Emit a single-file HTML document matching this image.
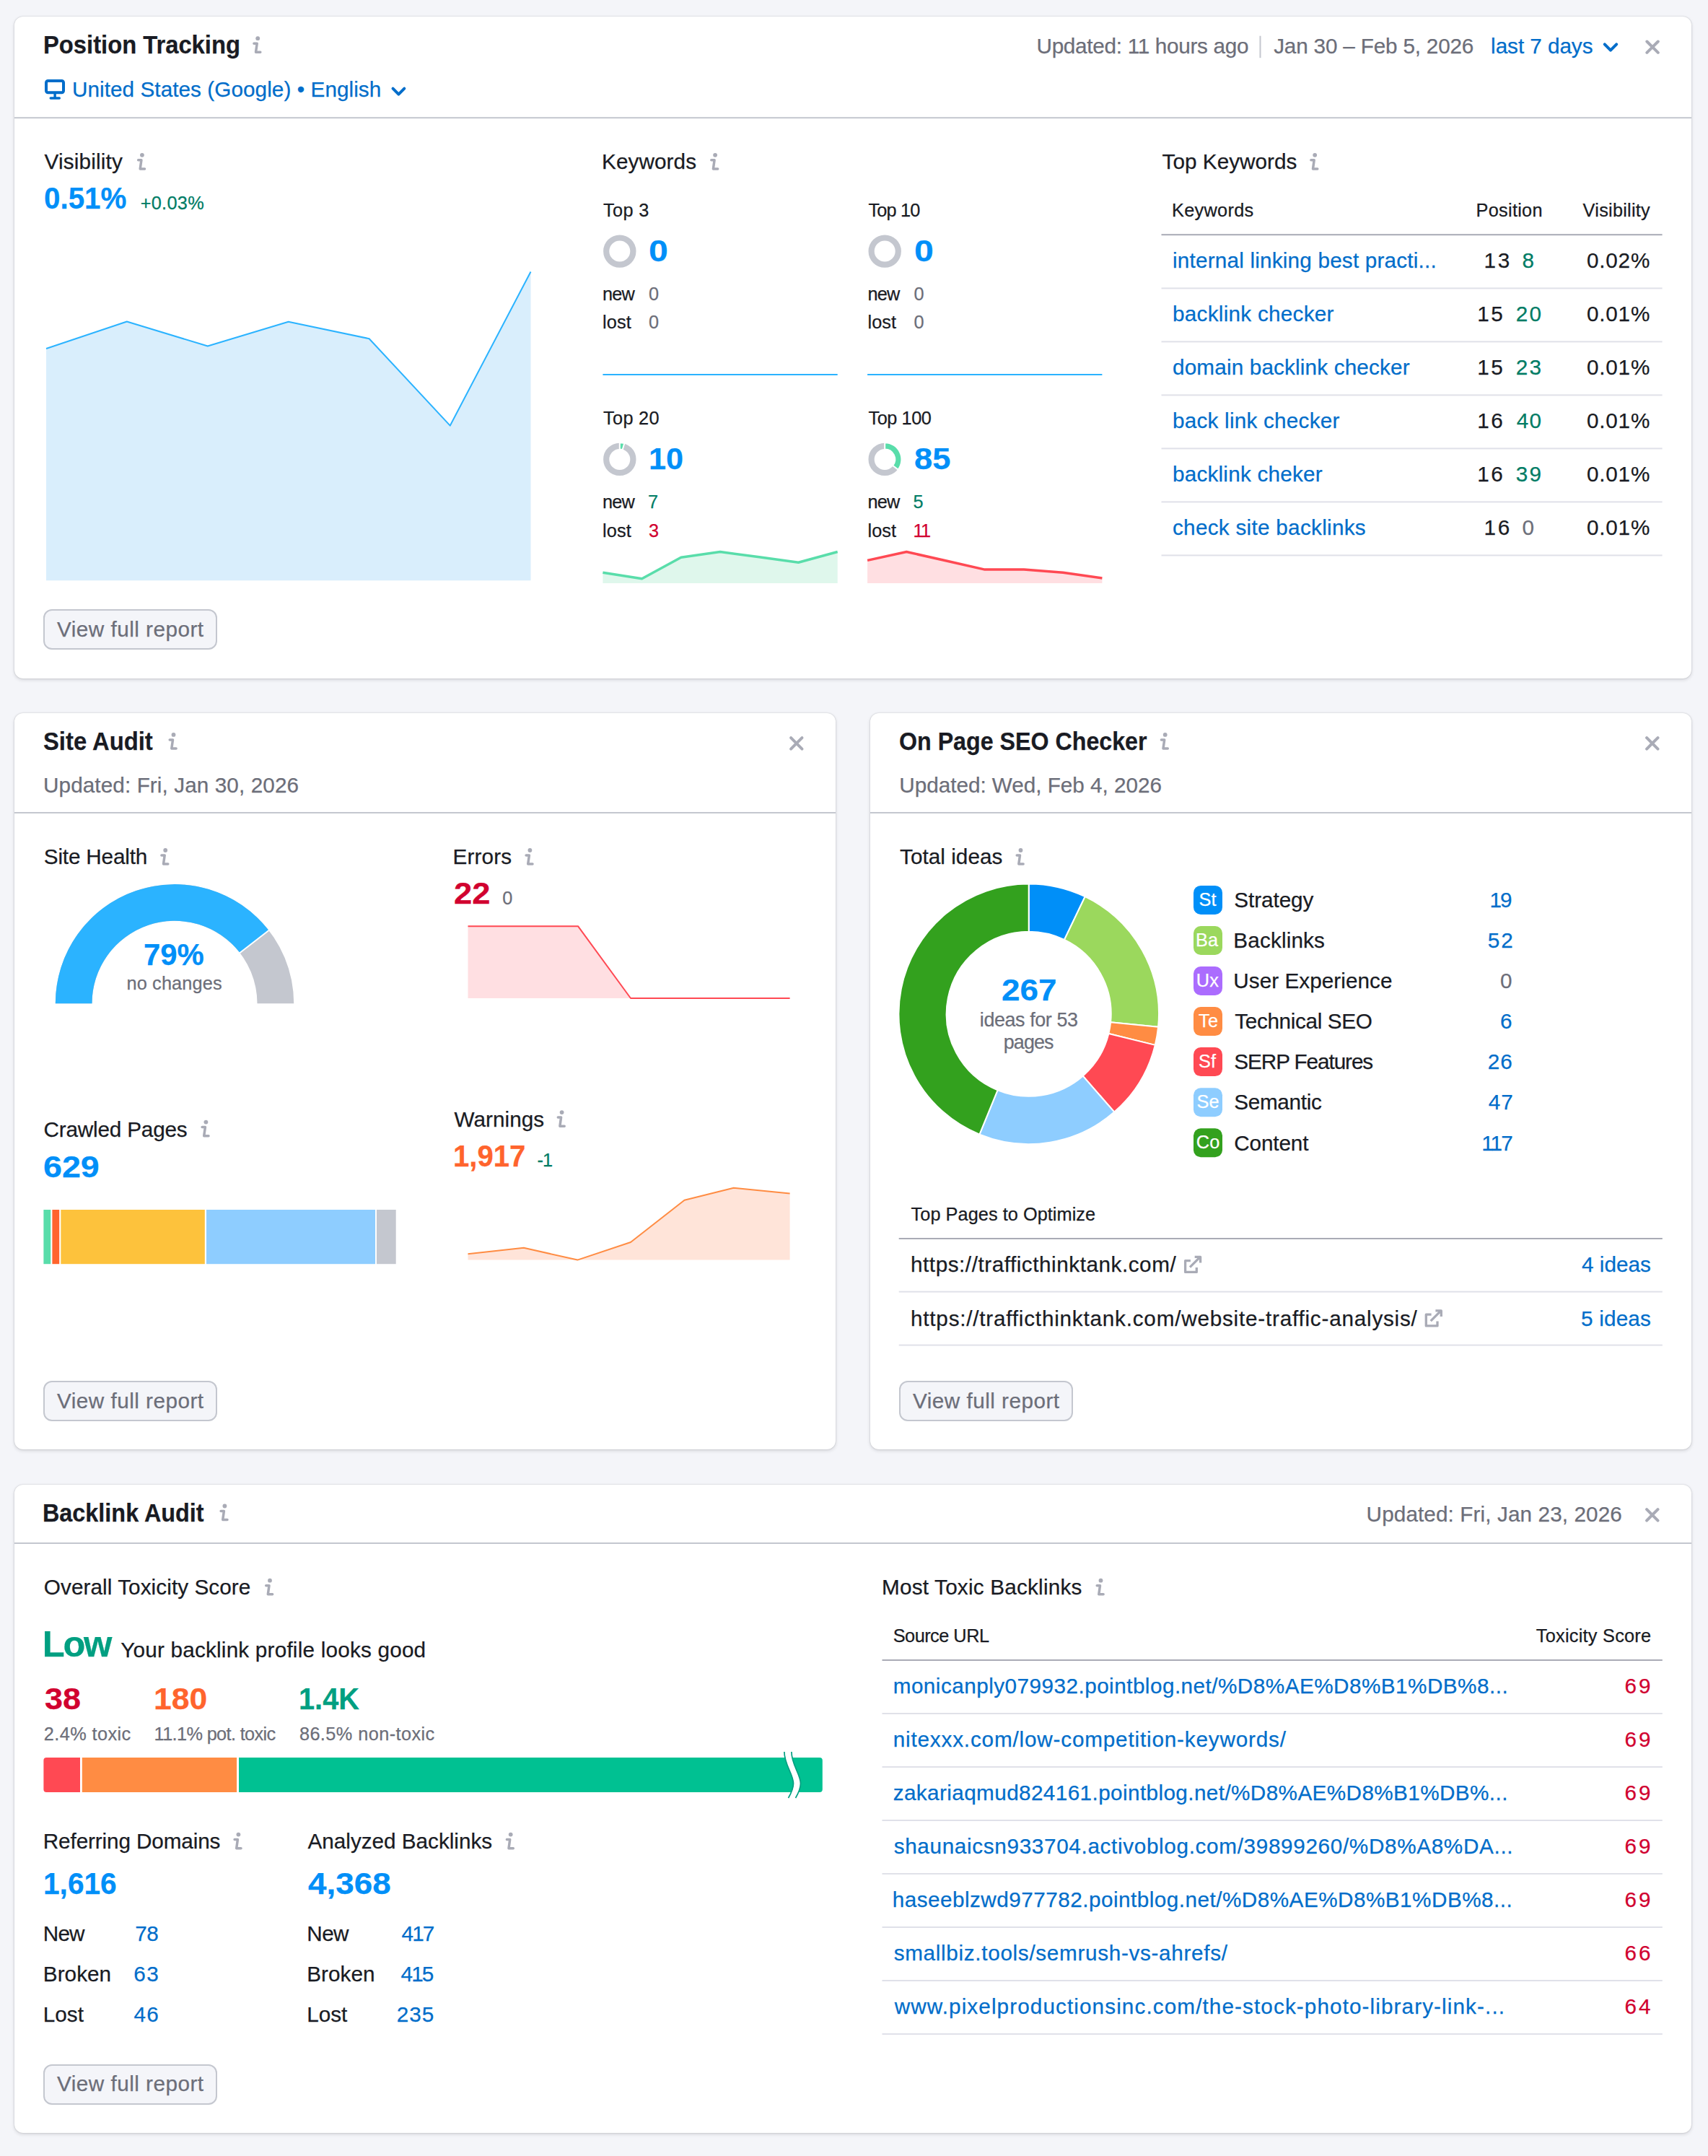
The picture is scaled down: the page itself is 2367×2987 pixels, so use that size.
<!DOCTYPE html>
<html lang="en"><head><meta charset="utf-8"><title>SEO Dashboard</title>
<style>
html,body{margin:0;padding:0}
body{width:2367px;height:2987px;background:#f4f5f9;font-family:"Liberation Sans",Arial,sans-serif;color:#191b23;position:relative;overflow:hidden}
.card{position:absolute;background:#fff;border-radius:12px;box-shadow:0 0 2px rgba(25,27,35,.22),0 2px 5px rgba(25,27,35,.14)}
.card svg{position:absolute;left:0;top:0;overflow:visible}
.card span,.card a,.card h2,.card h3{position:absolute;margin:0;white-space:nowrap;line-height:1;font-weight:400;text-decoration:none;-webkit-text-stroke:.25px currentColor}
.b{font-weight:700!important}
.num{transform-origin:0 50%;-webkit-text-stroke:.3px currentColor}
.ttl{transform-origin:0 50%}
.med{-webkit-text-stroke:.65px currentColor}
.low{-webkit-text-stroke:.7px currentColor}
.btn{position:absolute;box-sizing:border-box;border:2px solid #c4c7cf;border-radius:12px;background:#f4f5f9}
</style></head><body>

<section class="card" id="position-tracking" style="left:20px;top:22.8px;width:2324px;height:917.2px">
<svg width="2324" height="917.2" viewBox="20 22.8 2324 917.2">
<g class="info" fill="none" stroke="#a9abb6" stroke-width="3.5" stroke-linecap="round" stroke-linejoin="round"><circle cx="357.2" cy="53.0" r="2.9" fill="#a9abb6" stroke="none"/><path d="M351.9 60.0H356.2L354.5 72.0H360.8"/></g>
<rect x="64" y="111.8" width="24" height="16.2" rx="2.5" fill="none" stroke="#006dca" stroke-width="4"/><rect x="74.4" y="129" width="3.4" height="6" fill="#006dca"/><rect x="68.5" y="134" width="15.5" height="3.5" rx="1.7" fill="#006dca"/>
<path d="M544.5 122.5L552.4 130.5L560.3 122.5" stroke="#006dca" stroke-width="4" stroke-linecap="round" stroke-linejoin="round" fill="none"/>
<rect x="1745.5" y="49.5" width="2" height="30.5" fill="#c4c7cf"/>
<path d="M2223.8 61.2L2232.0 69.4L2240.2 61.2" stroke="#006dca" stroke-width="4" stroke-linecap="round" stroke-linejoin="round" fill="none"/>
<path d="M2282.4 57.3L2297.8 72.7M2297.8 57.3L2282.4 72.7" stroke="#a9abb6" stroke-width="4" stroke-linecap="round" fill="none"/>
<rect x="20.0" y="162.0" width="2324.0" height="2" fill="#c4c7cf"/>
<g class="info" fill="none" stroke="#a9abb6" stroke-width="3.5" stroke-linecap="round" stroke-linejoin="round"><circle cx="196.9" cy="214.6" r="2.9" fill="#a9abb6" stroke="none"/><path d="M191.6 221.6H195.9L194.2 233.7H200.5"/></g>
<polygon points="64.0,804.1 64.0,482.8 175.8,445.3 287.8,479.3 399.7,445.5 511.6,469.0 623.7,589.5 735.5,376.3 735.5,804.1" fill="#d9eefc"/>
<polyline points="64.0,482.8 175.8,445.3 287.8,479.3 399.7,445.5 511.6,469.0 623.7,589.5 735.5,376.3" fill="none" stroke="#2bb3ff" stroke-width="2" stroke-linejoin="round"/>
<g class="info" fill="none" stroke="#a9abb6" stroke-width="3.5" stroke-linecap="round" stroke-linejoin="round"><circle cx="991.1" cy="214.6" r="2.9" fill="#a9abb6" stroke="none"/><path d="M985.8 221.6H990.1L988.4 233.7H994.7"/></g>
<circle cx="858.8" cy="347.9" r="18.6" fill="none" stroke="#c4c7cf" stroke-width="8.2"/>
<circle cx="1226.2" cy="347.9" r="18.6" fill="none" stroke="#c4c7cf" stroke-width="8.2"/>
<circle cx="858.8" cy="636.2" r="18.6" fill="none" stroke="#c4c7cf" stroke-width="8.2"/>
<path d="M858.80 613.00A23.2 23.2 0 0 1 865.27 613.92L862.71 622.76A14 14 0 0 0 858.80 622.20Z" fill="#59ddaa" stroke="#fff" stroke-width="2"/>
<circle cx="1226.2" cy="636.2" r="18.6" fill="none" stroke="#c4c7cf" stroke-width="8.2"/>
<path d="M1226.20 613.00A23.2 23.2 0 0 1 1244.53 650.42L1237.26 644.78A14 14 0 0 0 1226.20 622.20Z" fill="#59ddaa" stroke="#fff" stroke-width="2"/>
<rect x="835.4" y="517.8" width="325.3" height="2" fill="#2bb3ff"/><rect x="1202.1" y="517.8" width="325.3" height="2" fill="#2bb3ff"/>
<polygon points="835.4,807.8 835.4,793.1 889.6,801.5 943.8,772.0 998.0,764.3 1052.2,771.6 1106.5,779.0 1160.7,764.3 1160.7,807.8" fill="#dff7ec"/>
<polyline points="835.4,793.1 889.6,801.5 943.8,772.0 998.0,764.3 1052.2,771.6 1106.5,779.0 1160.7,764.3" fill="none" stroke="#59ddaa" stroke-width="3.5" stroke-linejoin="round"/>
<polygon points="1202.1,807.8 1202.1,776.2 1256.3,764.3 1310.5,776.6 1364.8,788.9 1419.0,788.9 1473.2,793.1 1527.4,800.8 1527.4,807.8" fill="#ffdfe2"/>
<polyline points="1202.1,776.2 1256.3,764.3 1310.5,776.6 1364.8,788.9 1419.0,788.9 1473.2,793.1 1527.4,800.8" fill="none" stroke="#ff4953" stroke-width="3.5" stroke-linejoin="round"/>
<g class="info" fill="none" stroke="#a9abb6" stroke-width="3.5" stroke-linecap="round" stroke-linejoin="round"><circle cx="1822.2" cy="214.6" r="2.9" fill="#a9abb6" stroke="none"/><path d="M1816.9 221.6H1821.2L1819.5 233.7H1825.8"/></g>
<rect x="1609.5" y="324.0" width="694.1" height="2" fill="#a9abb6"/>
<rect x="1609.5" y="398.2" width="694.1" height="2" fill="#e0e1e9"/>
<rect x="1609.5" y="472.2" width="694.1" height="2" fill="#e0e1e9"/>
<rect x="1609.5" y="546.2" width="694.1" height="2" fill="#e0e1e9"/>
<rect x="1609.5" y="620.2" width="694.1" height="2" fill="#e0e1e9"/>
<rect x="1609.5" y="694.2" width="694.1" height="2" fill="#e0e1e9"/>
<rect x="1609.5" y="768.2" width="694.1" height="2" fill="#e0e1e9"/>
</svg>
<div class="btn" style="left:40.0px;top:821.2px;width:241.0px;height:56.0px"></div>
<h2 class="b ttl" style="left:40.1px;top:22.4px;font-size:34.6px;letter-spacing:0.00px;color:#191b23;transform:scaleX(0.947)">Position Tracking</h2>
<a href="#" style="left:79.9px;top:86.6px;font-size:29.7px;letter-spacing:0.07px;color:#006dca">United States (Google) • English</a>
<span style="left:1416.5px;top:26.6px;font-size:29.7px;letter-spacing:-0.29px;color:#6c6e79">Updated: 11 hours ago</span>
<span style="left:1745.2px;top:26.6px;font-size:29.7px;letter-spacing:-0.18px;color:#6c6e79">Jan 30 – Feb 5, 2026</span>
<a href="#" style="left:2046.1px;top:26.6px;font-size:29.7px;letter-spacing:-0.05px;color:#006dca">last 7 days</a>
<h3 style="left:41.5px;top:186.4px;font-size:29.7px;letter-spacing:0.17px;color:#191b23">Visibility</h3>
<span class="b num" style="left:40.8px;top:231.7px;font-size:42.2px;letter-spacing:0.00px;color:#008ff8;transform:scaleX(0.956)">0.51%</span>
<span style="left:174.7px;top:246.0px;font-size:25.3px;letter-spacing:0.29px;color:#007c65">+0.03%</span>
<span class="med" style="left:59.0px;top:833.9px;font-size:29.7px;letter-spacing:0.48px;color:#6c6e79">View full report</span>
<h3 style="left:814.1px;top:186.0px;font-size:29.7px;letter-spacing:0.08px;color:#191b23">Keywords</h3>
<span style="left:816.1px;top:255.9px;font-size:25.3px;letter-spacing:0.33px;color:#191b23">Top 3</span>
<span class="b num" style="left:879.4px;top:304.2px;font-size:42.2px;letter-spacing:0.00px;color:#008ff8;transform:scaleX(1.143)">0</span>
<span style="left:815.1px;top:371.8px;font-size:25.3px;letter-spacing:-0.81px;color:#191b23">new</span>
<span style="left:879.0px;top:371.8px;font-size:25.3px;letter-spacing:0.89px;color:#6c6e79">0</span>
<span style="left:815.1px;top:411.6px;font-size:25.3px;letter-spacing:0.09px;color:#191b23">lost</span>
<span style="left:879.0px;top:411.6px;font-size:25.3px;letter-spacing:0.89px;color:#6c6e79">0</span>
<span style="left:1183.5px;top:255.9px;font-size:25.3px;letter-spacing:-0.83px;color:#191b23">Top 10</span>
<span class="b num" style="left:1246.8px;top:304.2px;font-size:42.2px;letter-spacing:0.00px;color:#008ff8;transform:scaleX(1.143)">0</span>
<span style="left:1182.5px;top:371.8px;font-size:25.3px;letter-spacing:-0.81px;color:#191b23">new</span>
<span style="left:1246.4px;top:371.8px;font-size:25.3px;letter-spacing:0.89px;color:#6c6e79">0</span>
<span style="left:1182.5px;top:411.6px;font-size:25.3px;letter-spacing:0.09px;color:#191b23">lost</span>
<span style="left:1246.4px;top:411.6px;font-size:25.3px;letter-spacing:0.89px;color:#6c6e79">0</span>
<span style="left:816.1px;top:544.2px;font-size:25.3px;letter-spacing:0.29px;color:#191b23">Top 20</span>
<span class="b num" style="left:878.5px;top:592.5px;font-size:42.2px;letter-spacing:0.00px;color:#008ff8;transform:scaleX(1.024)">10</span>
<span style="left:815.1px;top:660.1px;font-size:25.3px;letter-spacing:-0.81px;color:#191b23">new</span>
<span style="left:878.0px;top:660.1px;font-size:25.3px;letter-spacing:0.89px;color:#007c65">7</span>
<span style="left:815.1px;top:699.9px;font-size:25.3px;letter-spacing:0.09px;color:#191b23">lost</span>
<span style="left:879.0px;top:699.9px;font-size:25.3px;letter-spacing:0.89px;color:#d1002f">3</span>
<span style="left:1183.5px;top:544.2px;font-size:25.3px;letter-spacing:-0.45px;color:#191b23">Top 100</span>
<span class="b num" style="left:1246.8px;top:592.5px;font-size:42.2px;letter-spacing:0.00px;color:#008ff8;transform:scaleX(1.074)">85</span>
<span style="left:1182.5px;top:660.1px;font-size:25.3px;letter-spacing:-0.81px;color:#191b23">new</span>
<span style="left:1245.4px;top:660.1px;font-size:25.3px;letter-spacing:0.89px;color:#007c65">5</span>
<span style="left:1182.5px;top:699.9px;font-size:25.3px;letter-spacing:0.09px;color:#191b23">lost</span>
<span style="left:1245.4px;top:699.9px;font-size:25.3px;letter-spacing:-1.64px;color:#d1002f">11</span>
<h3 style="left:1590.6px;top:186.5px;font-size:29.7px;letter-spacing:0.03px;color:#191b23">Top Keywords</h3>
<span style="left:1604.0px;top:256.1px;font-size:25.3px;letter-spacing:0.31px;color:#191b23">Keywords</span>
<span style="left:2025.6px;top:256.1px;font-size:25.3px;letter-spacing:0.27px;color:#191b23">Position</span>
<span style="left:2173.6px;top:256.1px;font-size:25.3px;letter-spacing:0.25px;color:#191b23">Visibility</span>
<a href="#" style="left:1605.0px;top:323.7px;font-size:29.7px;letter-spacing:0.20px;color:#006dca">internal linking best practi...</a>
<span style="left:2036.4px;top:323.7px;font-size:29.7px;letter-spacing:2.82px;color:#191b23">13</span>
<span style="left:2089.4px;top:323.7px;font-size:29.7px;letter-spacing:1.04px;color:#007c65">8</span>
<span style="left:2179.0px;top:323.7px;font-size:29.7px;letter-spacing:0.78px;color:#191b23">0.02%</span>
<a href="#" style="left:1605.0px;top:397.7px;font-size:29.7px;letter-spacing:0.27px;color:#006dca">backlink checker</a>
<span style="left:2027.3px;top:397.7px;font-size:29.7px;letter-spacing:2.42px;color:#191b23">15</span>
<span style="left:2080.7px;top:397.7px;font-size:29.7px;letter-spacing:2.32px;color:#007c65">20</span>
<span style="left:2179.0px;top:397.7px;font-size:29.7px;letter-spacing:0.78px;color:#191b23">0.01%</span>
<a href="#" style="left:1605.0px;top:471.7px;font-size:29.7px;letter-spacing:0.16px;color:#006dca">domain backlink checker</a>
<span style="left:2027.3px;top:471.7px;font-size:29.7px;letter-spacing:2.42px;color:#191b23">15</span>
<span style="left:2080.7px;top:471.7px;font-size:29.7px;letter-spacing:2.32px;color:#007c65">23</span>
<span style="left:2179.0px;top:471.7px;font-size:29.7px;letter-spacing:0.78px;color:#191b23">0.01%</span>
<a href="#" style="left:1605.0px;top:545.7px;font-size:29.7px;letter-spacing:0.23px;color:#006dca">back link checker</a>
<span style="left:2027.3px;top:545.7px;font-size:29.7px;letter-spacing:2.42px;color:#191b23">16</span>
<span style="left:2081.7px;top:545.7px;font-size:29.7px;letter-spacing:1.32px;color:#007c65">40</span>
<span style="left:2179.0px;top:545.7px;font-size:29.7px;letter-spacing:0.78px;color:#191b23">0.01%</span>
<a href="#" style="left:1605.0px;top:619.7px;font-size:29.7px;letter-spacing:0.21px;color:#006dca">backlink cheker</a>
<span style="left:2027.3px;top:619.7px;font-size:29.7px;letter-spacing:2.42px;color:#191b23">16</span>
<span style="left:2080.7px;top:619.7px;font-size:29.7px;letter-spacing:2.32px;color:#007c65">39</span>
<span style="left:2179.0px;top:619.7px;font-size:29.7px;letter-spacing:0.78px;color:#191b23">0.01%</span>
<a href="#" style="left:1605.0px;top:693.7px;font-size:29.7px;letter-spacing:0.28px;color:#006dca">check site backlinks</a>
<span style="left:2036.4px;top:693.7px;font-size:29.7px;letter-spacing:2.82px;color:#191b23">16</span>
<span style="left:2089.4px;top:693.7px;font-size:29.7px;letter-spacing:1.04px;color:#6c6e79">0</span>
<span style="left:2179.0px;top:693.7px;font-size:29.7px;letter-spacing:0.78px;color:#191b23">0.01%</span>
</section>
<section class="card" id="site-audit" style="left:20px;top:988px;width:1138px;height:1020px">
<svg width="1138" height="1020" viewBox="20 988 1138 1020">
<g class="info" fill="none" stroke="#a9abb6" stroke-width="3.5" stroke-linecap="round" stroke-linejoin="round"><circle cx="240.5" cy="1017.9" r="2.9" fill="#a9abb6" stroke="none"/><path d="M235.2 1024.9H239.5L237.8 1037.0H244.1"/></g>
<path d="M1096.1 1022.2L1111.5 1037.6M1111.5 1022.2L1096.1 1037.6" stroke="#a9abb6" stroke-width="4" stroke-linecap="round" fill="none"/>
<rect x="20.0" y="1125.0" width="1138.0" height="2" fill="#c4c7cf"/>
<g class="info" fill="none" stroke="#a9abb6" stroke-width="3.5" stroke-linecap="round" stroke-linejoin="round"><circle cx="229.2" cy="1178.0" r="2.9" fill="#a9abb6" stroke="none"/><path d="M223.9 1185.0H228.2L226.5 1197.0H232.8"/></g>
<path d="M76.80 1390.30A165.2 165.2 0 0 1 407.20 1390.30L356.50 1390.30A114.5 114.5 0 0 0 127.50 1390.30Z" fill="#c4c7cf"/>
<path d="M76.80 1390.30A165.2 165.2 0 0 1 372.53 1289.05L332.47 1320.12A114.5 114.5 0 0 0 127.50 1390.30Z" fill="#2bb3ff"/>
<line x1="330.9" y1="1321.3" x2="374.1" y2="1287.8" stroke="#fff" stroke-width="2"/>
<g class="info" fill="none" stroke="#a9abb6" stroke-width="3.5" stroke-linecap="round" stroke-linejoin="round"><circle cx="734.4" cy="1178.0" r="2.9" fill="#a9abb6" stroke="none"/><path d="M729.1 1185.0H733.4L731.7 1197.0H738.0"/></g>
<polygon points="648.5,1383.0 648.5,1283.2 801.0,1283.2 874.0,1383.0 1094.6,1383.0 1094.6,1383.0" fill="#ffdfe2"/>
<polyline points="648.5,1283.2 801.0,1283.2 874.0,1383.0 1094.6,1383.0" fill="none" stroke="#ff4953" stroke-width="2" stroke-linejoin="round"/>
<g class="info" fill="none" stroke="#a9abb6" stroke-width="3.5" stroke-linecap="round" stroke-linejoin="round"><circle cx="285.4" cy="1554.6" r="2.9" fill="#a9abb6" stroke="none"/><path d="M280.1 1561.6H284.4L282.7 1573.7H289.0"/></g>
<rect x="60.4" y="1676" width="9.9" height="75.2" fill="#59ddaa"/>
<rect x="72.4" y="1676" width="9.8" height="75.2" fill="#ff642d"/>
<rect x="84.3" y="1676" width="199.5" height="75.2" fill="#fdc23c"/>
<rect x="286" y="1676" width="234.0" height="75.2" fill="#8ecdff"/>
<rect x="522" y="1676" width="26.7" height="75.2" fill="#c4c7cf"/>
<g class="info" fill="none" stroke="#a9abb6" stroke-width="3.5" stroke-linecap="round" stroke-linejoin="round"><circle cx="778.6" cy="1541.1" r="2.9" fill="#a9abb6" stroke="none"/><path d="M773.3 1548.1H777.6L775.9 1560.2H782.2"/></g>
<polygon points="648.5,1745.6 648.5,1737.2 725.8,1728.7 800.3,1745.6 874.0,1721.0 948.5,1662.7 1016.7,1645.8 1094.6,1653.5 1094.6,1745.6" fill="#ffe4d9"/>
<polyline points="648.5,1737.2 725.8,1728.7 800.3,1745.6 874.0,1721.0 948.5,1662.7 1016.7,1645.8 1094.6,1653.5" fill="none" stroke="#ff8c43" stroke-width="2" stroke-linejoin="round"/>
</svg>
<div class="btn" style="left:40.0px;top:925.0px;width:241.0px;height:56.0px"></div>
<h2 class="b ttl" style="left:39.5px;top:22.1px;font-size:34.6px;letter-spacing:0.00px;color:#191b23;transform:scaleX(0.948)">Site Audit</h2>
<span style="left:40.0px;top:84.9px;font-size:29.7px;letter-spacing:0.10px;color:#6c6e79">Updated: Fri, Jan 30, 2026</span>
<h3 style="left:40.8px;top:184.1px;font-size:29.7px;letter-spacing:-0.17px;color:#191b23">Site Health</h3>
<span class="b num" style="left:179.2px;top:314.3px;font-size:42.2px;letter-spacing:0.00px;color:#008ff8;transform:scaleX(0.992)">79%</span>
<span style="left:155.4px;top:362.2px;font-size:25.3px;letter-spacing:0.17px;color:#6c6e79">no changes</span>
<h3 style="left:607.5px;top:184.1px;font-size:29.7px;letter-spacing:0.17px;color:#191b23">Errors</h3>
<span class="b num" style="left:609.1px;top:229.3px;font-size:42.2px;letter-spacing:0.00px;color:#d1002f;transform:scaleX(1.076)">22</span>
<span style="left:676.3px;top:243.6px;font-size:25.3px;letter-spacing:0.89px;color:#6c6e79">0</span>
<h3 style="left:40.5px;top:561.5px;font-size:29.7px;letter-spacing:-0.18px;color:#191b23">Crawled Pages</h3>
<span class="b num" style="left:40.4px;top:607.5px;font-size:42.2px;letter-spacing:0.00px;color:#008ff8;transform:scaleX(1.105)">629</span>
<h3 style="left:609.5px;top:547.5px;font-size:29.7px;letter-spacing:0.06px;color:#191b23">Warnings</h3>
<span class="b num" style="left:608.3px;top:592.6px;font-size:42.2px;letter-spacing:0.00px;color:#ff642d;transform:scaleX(0.951)">1,917</span>
<span style="left:724.4px;top:606.9px;font-size:25.3px;letter-spacing:-0.82px;color:#007c65">-1</span>
<span class="med" style="left:59.0px;top:937.9px;font-size:29.7px;letter-spacing:0.48px;color:#6c6e79">View full report</span>
</section>
<section class="card" id="on-page-seo-checker" style="left:1206px;top:988px;width:1138px;height:1020px">
<svg width="1138" height="1020" viewBox="1206 988 1138 1020">
<g class="info" fill="none" stroke="#a9abb6" stroke-width="3.5" stroke-linecap="round" stroke-linejoin="round"><circle cx="1614.7" cy="1017.9" r="2.9" fill="#a9abb6" stroke="none"/><path d="M1609.4 1024.9H1613.7L1612.0 1037.0H1618.3"/></g>
<path d="M2282.1 1022.2L2297.5 1037.6M2297.5 1022.2L2282.1 1037.6" stroke="#a9abb6" stroke-width="4" stroke-linecap="round" fill="none"/>
<rect x="1206.0" y="1125.0" width="1138.0" height="2" fill="#c4c7cf"/>
<g class="info" fill="none" stroke="#a9abb6" stroke-width="3.5" stroke-linecap="round" stroke-linejoin="round"><circle cx="1414.5" cy="1178.0" r="2.9" fill="#a9abb6" stroke="none"/><path d="M1409.2 1185.0H1413.5L1411.8 1197.0H1418.1"/></g>
<path d="M1425.70 1224.50A180.3 180.3 0 0 1 1503.66 1242.22L1474.99 1302.01A114 114 0 0 0 1425.70 1290.80Z" fill="#008ff8" stroke="#fff" stroke-width="2" stroke-linejoin="round"/>
<path d="M1503.66 1242.22A180.3 180.3 0 0 1 1605.10 1422.80L1539.13 1416.18A114 114 0 0 0 1474.99 1302.01Z" fill="#9bd85d" stroke="#fff" stroke-width="2" stroke-linejoin="round"/>
<path d="M1605.10 1422.80A180.3 180.3 0 0 1 1600.78 1447.87L1536.40 1432.03A114 114 0 0 0 1539.13 1416.18Z" fill="#ff8c43" stroke="#fff" stroke-width="2" stroke-linejoin="round"/>
<path d="M1600.78 1447.87A180.3 180.3 0 0 1 1544.28 1540.62L1500.68 1490.68A114 114 0 0 0 1536.40 1432.03Z" fill="#ff4953" stroke="#fff" stroke-width="2" stroke-linejoin="round"/>
<path d="M1544.28 1540.62A180.3 180.3 0 0 1 1357.44 1571.68L1382.54 1510.31A114 114 0 0 0 1500.68 1490.68Z" fill="#8ecdff" stroke="#fff" stroke-width="2" stroke-linejoin="round"/>
<path d="M1357.44 1571.68A180.3 180.3 0 0 1 1425.70 1224.50L1425.70 1290.80A114 114 0 0 0 1382.54 1510.31Z" fill="#33a11e" stroke="#fff" stroke-width="2" stroke-linejoin="round"/>
<rect x="1654" y="1226.9" width="40" height="40" rx="10" fill="#008ff8"/>
<rect x="1654" y="1283.0" width="40" height="40" rx="10" fill="#9bd85d"/>
<rect x="1654" y="1339.0" width="40" height="40" rx="10" fill="#ab6cfe"/>
<rect x="1654" y="1395.1" width="40" height="40" rx="10" fill="#ff8c43"/>
<rect x="1654" y="1451.1" width="40" height="40" rx="10" fill="#ff4953"/>
<rect x="1654" y="1507.2" width="40" height="40" rx="10" fill="#8ecdff"/>
<rect x="1654" y="1563.2" width="40" height="40" rx="10" fill="#33a11e"/>
<rect x="1245.7" y="1715.0" width="1058.1" height="2" fill="#a9abb6"/>
<path d="M1649.9 1746.7H1642.6V1762.4H1658.3V1756.0M1649.0 1755.7L1663.0 1741.7M1655.7 1741.4H1663.6V1749.5" fill="none" stroke="#a9abb6" stroke-width="3.3" stroke-linejoin="round"/>
<rect x="1245.7" y="1788.6" width="1058.1" height="2" fill="#e0e1e9"/>
<path d="M1983.6 1821.2H1976.3V1836.9H1992.0V1830.5M1982.7 1830.2L1996.7 1816.2M1989.4 1815.9H1997.3V1824.0" fill="none" stroke="#a9abb6" stroke-width="3.3" stroke-linejoin="round"/>
<rect x="1245.7" y="1862.6" width="1058.1" height="2" fill="#e0e1e9"/>
</svg>
<div class="btn" style="left:40.0px;top:925.0px;width:241.0px;height:56.0px"></div>
<h2 class="b ttl" style="left:39.5px;top:22.1px;font-size:34.6px;letter-spacing:0.00px;color:#191b23;transform:scaleX(0.931)">On Page SEO Checker</h2>
<span style="left:40.3px;top:84.9px;font-size:29.7px;letter-spacing:-0.02px;color:#6c6e79">Updated: Wed, Feb 4, 2026</span>
<h3 style="left:41.1px;top:184.1px;font-size:29.7px;letter-spacing:0.03px;color:#191b23">Total ideas</h3>
<span class="b num" style="left:181.9px;top:362.8px;font-size:42.2px;letter-spacing:0.00px;color:#008ff8;transform:scaleX(1.087)">267</span>
<span style="left:151.8px;top:411.8px;font-size:26.9px;letter-spacing:-0.39px;color:#6c6e79">ideas for 53</span>
<span style="left:184.8px;top:443.2px;font-size:26.9px;letter-spacing:-0.90px;color:#6c6e79">pages</span>
<span class="med badge" style="left:455.5px;top:245.9px;font-size:25.3px;letter-spacing:0.20px;color:#fff">St</span>
<span style="left:504.3px;top:244.2px;font-size:29.7px;letter-spacing:-0.07px;color:#191b23">Strategy</span>
<span style="left:858.5px;top:244.2px;font-size:29.7px;letter-spacing:-1.93px;color:#006dca">19</span>
<span class="med badge" style="left:451.0px;top:301.9px;font-size:25.3px;letter-spacing:0.20px;color:#fff">Ba</span>
<span style="left:503.3px;top:300.2px;font-size:29.7px;letter-spacing:0.15px;color:#191b23">Backlinks</span>
<span style="left:855.8px;top:300.2px;font-size:29.7px;letter-spacing:1.82px;color:#006dca">52</span>
<span class="med badge" style="left:451.8px;top:358.0px;font-size:25.3px;letter-spacing:0.20px;color:#fff">Ux</span>
<span style="left:503.3px;top:356.3px;font-size:29.7px;letter-spacing:0.05px;color:#191b23">User Experience</span>
<span style="left:873.1px;top:356.3px;font-size:29.7px;letter-spacing:1.04px;color:#6c6e79">0</span>
<span class="med badge" style="left:455.1px;top:414.0px;font-size:25.3px;letter-spacing:0.20px;color:#fff">Te</span>
<span style="left:505.3px;top:412.3px;font-size:29.7px;letter-spacing:-0.35px;color:#191b23">Technical SEO</span>
<span style="left:873.1px;top:412.3px;font-size:29.7px;letter-spacing:1.04px;color:#006dca">6</span>
<span class="med badge" style="left:455.0px;top:470.1px;font-size:25.3px;letter-spacing:0.20px;color:#fff">Sf</span>
<span style="left:504.3px;top:468.4px;font-size:29.7px;letter-spacing:-1.07px;color:#191b23">SERP Features</span>
<span style="left:855.8px;top:468.4px;font-size:29.7px;letter-spacing:0.82px;color:#006dca">26</span>
<span class="med badge" style="left:452.5px;top:526.1px;font-size:25.3px;letter-spacing:0.20px;color:#fff">Se</span>
<span style="left:504.3px;top:524.4px;font-size:29.7px;letter-spacing:-0.33px;color:#191b23">Semantic</span>
<span style="left:856.8px;top:524.4px;font-size:29.7px;letter-spacing:0.82px;color:#006dca">47</span>
<span class="med badge" style="left:451.8px;top:582.2px;font-size:25.3px;letter-spacing:0.20px;color:#fff">Co</span>
<span style="left:504.3px;top:580.5px;font-size:29.7px;letter-spacing:-0.13px;color:#191b23">Content</span>
<span style="left:847.2px;top:580.5px;font-size:29.7px;letter-spacing:-1.93px;color:#006dca">117</span>
<span style="left:56.6px;top:681.8px;font-size:25.3px;letter-spacing:0.05px;color:#191b23">Top Pages to Optimize</span>
<span style="left:56.0px;top:749.1px;font-size:29.7px;letter-spacing:0.54px;color:#191b23">https://trafficthinktank.com/</span>
<a href="#" style="left:986.1px;top:749.1px;font-size:29.7px;letter-spacing:0.01px;color:#006dca">4 ideas</a>
<span style="left:56.0px;top:823.6px;font-size:29.7px;letter-spacing:0.78px;color:#191b23">https://trafficthinktank.com/website-traffic-analysis/</span>
<a href="#" style="left:985.1px;top:823.6px;font-size:29.7px;letter-spacing:0.17px;color:#006dca">5 ideas</a>
<span class="med" style="left:59.0px;top:937.9px;font-size:29.7px;letter-spacing:0.48px;color:#6c6e79">View full report</span>
</section>
<section class="card" id="backlink-audit" style="left:20px;top:2057px;width:2324px;height:898px">
<svg width="2324" height="898" viewBox="20 2057 2324 898">
<g class="info" fill="none" stroke="#a9abb6" stroke-width="3.5" stroke-linecap="round" stroke-linejoin="round"><circle cx="311.4" cy="2086.5" r="2.9" fill="#a9abb6" stroke="none"/><path d="M306.1 2093.5H310.4L308.7 2105.6H315.0"/></g>
<path d="M2282.1 2091.2L2297.5 2106.6M2297.5 2091.2L2282.1 2106.6" stroke="#a9abb6" stroke-width="4" stroke-linecap="round" fill="none"/>
<rect x="20.0" y="2137.0" width="2324.0" height="2" fill="#c4c7cf"/>
<g class="info" fill="none" stroke="#a9abb6" stroke-width="3.5" stroke-linecap="round" stroke-linejoin="round"><circle cx="374.0" cy="2189.7" r="2.9" fill="#a9abb6" stroke="none"/><path d="M368.7 2196.7H373.0L371.3 2208.8H377.6"/></g>
<path d="M64.4 2435H111V2483H64.4a4 4 0 0 1-4-4V2439a4 4 0 0 1 4-4Z" fill="#ff4953"/><rect x="113.8" y="2435" width="214.3" height="48" fill="#ff8c43"/><path d="M331 2435H1135.8a4 4 0 0 1 4 4V2479a4 4 0 0 1-4 4H331Z" fill="#00c192"/>
<path d="M1086.9 2427C1086.9 2445 1099.5 2458 1099.5 2471C1099.5 2479 1096 2485 1092.5 2491L1102.5 2491C1106 2485 1109.5 2479 1109.5 2471C1109.5 2458 1096.9 2445 1096.9 2427Z" fill="#fff"/><path d="M1086.9 2427C1086.9 2445 1099.5 2458 1099.5 2471C1099.5 2479 1096 2485 1092.5 2491M1096.9 2427C1096.9 2445 1109.5 2458 1109.5 2471C1109.5 2479 1106 2485 1102.5 2491" fill="none" stroke="#009f81" stroke-width="1.7"/>
<g class="info" fill="none" stroke="#a9abb6" stroke-width="3.5" stroke-linecap="round" stroke-linejoin="round"><circle cx="330.4" cy="2541.6" r="2.9" fill="#a9abb6" stroke="none"/><path d="M325.1 2548.6H329.4L327.7 2560.7H334.0"/></g>
<g class="info" fill="none" stroke="#a9abb6" stroke-width="3.5" stroke-linecap="round" stroke-linejoin="round"><circle cx="707.7" cy="2541.6" r="2.9" fill="#a9abb6" stroke="none"/><path d="M702.4 2548.6H706.7L705.0 2560.7H711.3"/></g>
<g class="info" fill="none" stroke="#a9abb6" stroke-width="3.5" stroke-linecap="round" stroke-linejoin="round"><circle cx="1525.5" cy="2189.7" r="2.9" fill="#a9abb6" stroke="none"/><path d="M1520.2 2196.7H1524.5L1522.8 2208.8H1529.1"/></g>
<rect x="1222.5" y="2299.0" width="1081.3" height="2" fill="#a9abb6"/>
<rect x="1222.5" y="2373.0" width="1081.3" height="2" fill="#e0e1e9"/>
<rect x="1222.5" y="2447.0" width="1081.3" height="2" fill="#e0e1e9"/>
<rect x="1222.5" y="2521.0" width="1081.3" height="2" fill="#e0e1e9"/>
<rect x="1222.5" y="2595.0" width="1081.3" height="2" fill="#e0e1e9"/>
<rect x="1222.5" y="2669.0" width="1081.3" height="2" fill="#e0e1e9"/>
<rect x="1222.5" y="2743.0" width="1081.3" height="2" fill="#e0e1e9"/>
<rect x="1222.5" y="2817.0" width="1081.3" height="2" fill="#e0e1e9"/>
</svg>
<div class="btn" style="left:40.0px;top:802.7px;width:241.0px;height:56.0px"></div>
<h2 class="b ttl" style="left:39.4px;top:21.7px;font-size:34.6px;letter-spacing:0.00px;color:#191b23;transform:scaleX(0.936)">Backlink Audit</h2>
<span style="left:1873.6px;top:25.9px;font-size:29.7px;letter-spacing:0.11px;color:#6c6e79">Updated: Fri, Jan 23, 2026</span>
<h3 style="left:40.8px;top:127.1px;font-size:29.7px;letter-spacing:0.08px;color:#191b23">Overall Toxicity Score</h3>
<span class="b low" style="left:38.8px;top:195.9px;font-size:50.6px;letter-spacing:-2.28px;color:#009f81">Low</span>
<span style="left:147.2px;top:213.6px;font-size:29.7px;letter-spacing:0.21px;color:#191b23">Your backlink profile looks good</span>
<span class="b num" style="left:41.8px;top:276.1px;font-size:42.2px;letter-spacing:-0.00px;color:#d1002f;transform:scaleX(1.066)">38</span>
<span class="b num" style="left:192.5px;top:276.1px;font-size:42.2px;letter-spacing:0.00px;color:#ff642d;transform:scaleX(1.056)">180</span>
<span class="b num" style="left:394.0px;top:276.1px;font-size:42.2px;letter-spacing:0.00px;color:#009f81;transform:scaleX(0.942)">1.4K</span>
<span style="left:40.8px;top:332.5px;font-size:25.3px;letter-spacing:0.41px;color:#6c6e79">2.4% toxic</span>
<span style="left:193.6px;top:332.5px;font-size:25.3px;letter-spacing:-0.64px;color:#6c6e79">11.1% pot. toxic</span>
<span style="left:394.9px;top:332.5px;font-size:25.3px;letter-spacing:0.42px;color:#6c6e79">86.5% non-toxic</span>
<h3 style="left:39.8px;top:479.0px;font-size:29.7px;letter-spacing:-0.12px;color:#191b23">Referring Domains</h3>
<h3 style="left:406.5px;top:479.0px;font-size:29.7px;letter-spacing:-0.01px;color:#191b23">Analyzed Backlinks</h3>
<span class="b num" style="left:40.1px;top:532.3px;font-size:42.2px;letter-spacing:0.00px;color:#008ff8;transform:scaleX(0.963)">1,616</span>
<span class="b num" style="left:407.0px;top:532.3px;font-size:42.2px;letter-spacing:-0.00px;color:#008ff8;transform:scaleX(1.086)">4,368</span>
<span style="left:39.8px;top:606.7px;font-size:29.7px;letter-spacing:-0.85px;color:#191b23">New</span>
<span style="left:167.3px;top:606.7px;font-size:29.7px;letter-spacing:-0.58px;color:#006dca">78</span>
<span style="left:405.3px;top:606.7px;font-size:29.7px;letter-spacing:-0.60px;color:#191b23">New</span>
<span style="left:536.6px;top:606.7px;font-size:29.7px;letter-spacing:-1.93px;color:#006dca">417</span>
<span style="left:39.8px;top:662.9px;font-size:29.7px;letter-spacing:0.05px;color:#191b23">Broken</span>
<span style="left:165.2px;top:662.9px;font-size:29.7px;letter-spacing:1.52px;color:#006dca">63</span>
<span style="left:405.3px;top:662.9px;font-size:29.7px;letter-spacing:0.01px;color:#191b23">Broken</span>
<span style="left:535.6px;top:662.9px;font-size:29.7px;letter-spacing:-1.93px;color:#006dca">415</span>
<span style="left:39.8px;top:719.1px;font-size:29.7px;letter-spacing:0.00px;color:#191b23">Lost</span>
<span style="left:165.5px;top:719.1px;font-size:29.7px;letter-spacing:1.22px;color:#006dca">46</span>
<span style="left:405.3px;top:719.1px;font-size:29.7px;letter-spacing:-0.03px;color:#191b23">Lost</span>
<span style="left:529.8px;top:719.1px;font-size:29.7px;letter-spacing:0.97px;color:#006dca">235</span>
<span class="med" style="left:59.0px;top:815.4px;font-size:29.7px;letter-spacing:0.48px;color:#6c6e79">View full report</span>
<h3 style="left:1202.0px;top:127.1px;font-size:29.7px;letter-spacing:0.21px;color:#191b23">Most Toxic Backlinks</h3>
<span style="left:1217.7px;top:196.8px;font-size:25.3px;letter-spacing:-0.50px;color:#191b23">Source URL</span>
<span style="left:2108.8px;top:196.8px;font-size:25.3px;letter-spacing:0.25px;color:#191b23">Toxicity Score</span>
<a href="#" style="left:1217.7px;top:263.9px;font-size:29.7px;letter-spacing:0.47px;color:#006dca">monicanply079932.pointblog.net/%D8%AE%D8%B1%DB%8...</a>
<span style="left:2231.5px;top:263.9px;font-size:29.7px;letter-spacing:2.92px;color:#d1002f">69</span>
<a href="#" style="left:1217.7px;top:337.9px;font-size:29.7px;letter-spacing:0.82px;color:#006dca">nitexxx.com/low-competition-keywords/</a>
<span style="left:2231.5px;top:337.9px;font-size:29.7px;letter-spacing:2.92px;color:#d1002f">69</span>
<a href="#" style="left:1217.7px;top:411.9px;font-size:29.7px;letter-spacing:0.40px;color:#006dca">zakariaqmud824161.pointblog.net/%D8%AE%D8%B1%DB%...</a>
<span style="left:2231.5px;top:411.9px;font-size:29.7px;letter-spacing:2.92px;color:#d1002f">69</span>
<a href="#" style="left:1218.7px;top:485.9px;font-size:29.7px;letter-spacing:0.66px;color:#006dca">shaunaicsn933704.activoblog.com/39899260/%D8%A8%DA...</a>
<span style="left:2231.5px;top:485.9px;font-size:29.7px;letter-spacing:2.92px;color:#d1002f">69</span>
<a href="#" style="left:1216.7px;top:559.9px;font-size:29.7px;letter-spacing:0.48px;color:#006dca">haseeblzwd977782.pointblog.net/%D8%AE%D8%B1%DB%8...</a>
<span style="left:2231.5px;top:559.9px;font-size:29.7px;letter-spacing:2.92px;color:#d1002f">69</span>
<a href="#" style="left:1218.7px;top:633.9px;font-size:29.7px;letter-spacing:0.68px;color:#006dca">smallbiz.tools/semrush-vs-ahrefs/</a>
<span style="left:2231.5px;top:633.9px;font-size:29.7px;letter-spacing:2.92px;color:#d1002f">66</span>
<a href="#" style="left:1219.7px;top:707.9px;font-size:29.7px;letter-spacing:1.10px;color:#006dca">www.pixelproductionsinc.com/the-stock-photo-library-link-...</a>
<span style="left:2231.5px;top:707.9px;font-size:29.7px;letter-spacing:2.92px;color:#d1002f">64</span>
</section>
</body></html>
